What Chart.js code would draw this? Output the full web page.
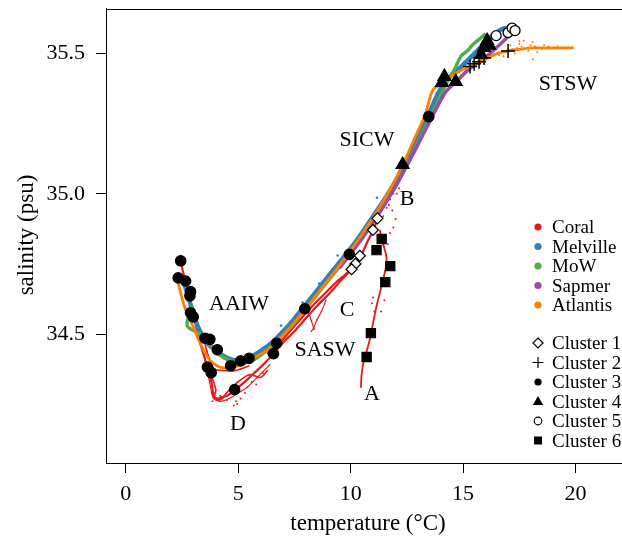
<!DOCTYPE html>
<html>
<head>
<meta charset="utf-8">
<script src="https://cdn.jsdelivr.net/npm/chart.js"></script>
<style>
html,body{margin:0;padding:0;background:#fff;overflow:hidden;}
canvas{display:block;}
</style>
</head>
<body>
<canvas id="c" width="649" height="539"></canvas>
<script>
// ---- tick labels ----
const xTicks = [0, 5, 10, 15, 20];
const yTicks = [34.5, 35.0, 35.5];

// ---- ship T-S traces [temperature, salinity] ----
const melville = [[2.6,34.68],[2.75,34.64],[2.9,34.60],[3.05,34.56],[3.3,34.51],[3.6,34.47],[4.0,34.44],[4.5,34.415],[5.0,34.405],[5.5,34.415],[6.0,34.44],[6.5,34.47],[7.0,34.51],[7.5,34.555],[8.0,34.605],[8.5,34.655],[9.0,34.705],[9.5,34.755],[10.0,34.805],[10.5,34.86],[11.0,34.92],[11.5,34.98],[12.0,35.045],[12.5,35.125],[13.0,35.205],[13.5,35.29],[13.9,35.36],[14.2,35.40],[14.6,35.43],[15.0,35.46],[15.5,35.50],[16.0,35.54],[16.4,35.57],[16.8,35.59],[17.2,35.59]];
const melvilleDots = [[6.9,34.53],[7.86,34.612],[9.42,34.78],[11.17,34.986],[8.6,34.68],[10.3,34.84]];
const mow = [[2.95,34.60],[2.8,34.57],[2.73,34.53],[2.95,34.515],[3.3,34.50],[3.7,34.465],[4.1,34.43],[4.6,34.405],[5.1,34.395],[5.6,34.405],[6.1,34.43],[6.6,34.465],[7.1,34.505],[7.6,34.55],[8.1,34.60],[8.6,34.65],[9.1,34.70],[9.6,34.75],[10.1,34.80],[10.6,34.855],[11.1,34.915],[11.6,34.975],[12.1,35.04],[12.6,35.12],[13.1,35.20],[13.6,35.285],[14.0,35.35],[14.3,35.40],[14.6,35.44],[14.9,35.49],[15.2,35.51],[15.4,35.53],[15.7,35.55],[16.0,35.57]];
const sapmer = [[9.5,34.735],[10.5,34.84],[11.5,34.96],[12.5,35.10],[13.5,35.255],[14.2,35.36],[14.7,35.40],[15.2,35.44],[15.7,35.47],[16.2,35.50],[16.6,35.53],[17.0,35.56]];
const atlantis = [[2.29,34.695],[2.6,34.60],[3.03,34.52],[3.33,34.464],[3.77,34.404],[4.35,34.379],[4.98,34.386],[5.69,34.414],[6.5,34.455],[7.5,34.54],[8.5,34.64],[9.5,34.745],[10.5,34.855],[11.5,34.98],[12.3,35.10],[12.8,35.19],[13.3,35.28],[13.65,35.37],[14.0,35.39],[14.5,35.42],[14.9,35.44],[15.5,35.46],[16.0,35.48],[16.5,35.50],[17.0,35.51],[17.5,35.515],[18.0,35.52],[18.5,35.52],[19.0,35.52],[19.5,35.52],[19.9,35.52]];
const atlantisDots = [[17.2,35.515],[17.4,35.52],[17.6,35.525],[17.8,35.52],[18.0,35.53],[18.2,35.525],[18.4,35.52],[18.6,35.53],[18.8,35.525],[19.0,35.52],[19.2,35.525],[19.4,35.52],[19.6,35.522],[19.85,35.523],[17.5,35.535],[18.1,35.54],[17.9,35.51],[18.5,35.515],[16.9,35.505],[17.1,35.53],[17.5,35.545],[16.8,35.49],[18.3,35.505],[18.1,35.48],[17.7,35.546],[16.6,35.495],[17.3,35.50]];
const coralMain = [[2.44,34.76],[2.55,34.72],[2.7,34.67],[2.85,34.62],[3.0,34.57],[3.15,34.52],[3.3,34.47],[3.45,34.43],[3.6,34.39],[3.75,34.35],[3.85,34.31],[3.9,34.28],[4.05,34.27],[4.3,34.275],[4.5,34.28],[4.7,34.29],[4.84,34.30],[5.0,34.31],[5.3,34.33],[5.7,34.36],[6.1,34.39],[6.57,34.43],[7.0,34.47],[7.5,34.51],[8.0,34.555],[8.5,34.60],[9.0,34.64],[9.5,34.685],[10.0,34.728],[10.4,34.77],[10.75,34.83],[11.0,34.87],[11.2,34.91]];
const coralLoop = [[3.47,34.486],[3.6,34.44],[3.77,34.40],[3.95,34.375],[4.3,34.37],[4.74,34.368],[5.1,34.375],[5.47,34.386]];
const coralD = [[3.6,34.40],[3.75,34.36],[3.9,34.33],[4.0,34.30],[3.95,34.275],[4.1,34.265],[4.3,34.27],[4.44,34.286],[4.6,34.30],[4.75,34.31],[5.0,34.33],[5.5,34.355],[6.0,34.345],[6.3,34.37]];
const coralD2 = [[3.2,34.52],[3.4,34.45],[3.55,34.40],[3.7,34.34],[3.82,34.29],[3.9,34.27],[4.2,34.26],[4.6,34.27],[5.0,34.29],[5.4,34.31],[5.9,34.35],[6.4,34.39]];
const coralDDots = [[4.95,34.25],[4.9,34.26],[5.1,34.27],[4.5,34.265],[5.3,34.29],[3.98,34.29],[4.2,34.28],[5.6,34.33],[5.8,34.32],[6.1,34.36],[4.8,34.245],[3.85,34.26]];
const coralC = [[6.3,34.43],[6.8,34.465],[7.3,34.51],[7.8,34.555],[8.3,34.60],[8.8,34.64],[9.3,34.68],[9.8,34.715],[10.2,34.745],[10.5,34.77]];
const coralTail = [[8.9,34.62],[8.7,34.58],[8.5,34.55],[8.35,34.52],[8.25,34.51]];
const coralTail2 = [[8.08,34.588],[8.26,34.546],[8.37,34.517]];
const coralA = [[10.46,34.31],[10.48,34.35],[10.55,34.39],[10.65,34.42],[10.75,34.45],[10.85,34.48],[10.95,34.52],[11.05,34.56],[11.15,34.60],[11.28,34.64],[11.4,34.68],[11.52,34.72],[11.6,34.75],[11.58,34.78],[11.48,34.81],[11.38,34.84],[11.3,34.87]];
const coralBDots = [[11.45,34.92],[11.6,34.95],[11.75,34.98],[11.9,35.0],[12.0,35.02],[12.1,35.035],[11.8,35.01],[12.05,35.0],[11.7,34.96],[11.65,34.82],[11.9,34.88],[12.0,34.91],[11.75,34.86],[11.5,34.62],[11.35,34.58],[11.0,34.63],[11.05,34.58],[10.95,34.61],[11.85,34.94],[12.15,35.02]];

// ---- water-mass clusters [temperature, salinity] ----
const cluster1 = [[11.19,34.9125],[10.99,34.871],[10.41,34.779],[10.21,34.75],[10.04,34.731]];
const cluster2 = [[17.00,35.509],[15.31,35.454],[15.49,35.464],[15.71,35.471],[15.93,35.484]];
const cluster3 = [[2.44,34.761],[2.33,34.70],[2.66,34.689],[2.88,34.651],[2.85,34.636],[2.88,34.576],[3.00,34.561],[3.52,34.485],[3.74,34.481],[4.07,34.444],[4.66,34.387],[5.11,34.404],[5.48,34.413],[3.63,34.382],[3.80,34.362],[4.84,34.302],[6.71,34.467],[6.57,34.430],[7.96,34.590],[9.94,34.784],[13.47,35.275]];
const cluster4 = [[12.31,35.104],[14.17,35.418],[14.06,35.396],[14.67,35.40],[16.07,35.546],[15.93,35.521],[15.80,35.496],[16.16,35.529]];
const cluster5 = [[16.47,35.564],[17.00,35.575],[17.18,35.591],[17.31,35.582]];
const cluster6 = [[11.38,34.839],[11.15,34.799],[11.76,34.742],[11.54,34.685],[10.90,34.503],[10.71,34.418]];

// ---- text ----
const shipNames = ['Coral','Melville','MoW','Sapmer','Atlantis'];
const clusterNames = ['Cluster 1','Cluster 2','Cluster 3','Cluster 4','Cluster 5','Cluster 6'];
const waterLabels = [['AAIW',239,302],['SASW',325,348],['C',347,308],['A',372,392],['D',238,422],['B',407,197],['SICW',367,138],['STSW',568,82]];

const COL = {Coral:'#E41A1C', Melville:'#377EB8', MoW:'#4DAF4A', Sapmer:'#984EA3', Atlantis:'#FF7F00'};
const FONT = '"Liberation Serif", "Times New Roman", serif';

const pts = a => a.map(([x,y]) => ({x, y}));
function trace(a, color, w, order, tension){
  return {data: pts(a), showLine: true, borderColor: color, backgroundColor: color,
    borderWidth: w, pointRadius: 0.8, pointBorderWidth: 0, tension: tension === undefined ? 0.3 : tension, order};
}
function dots(a, color, r, order){
  return {data: pts(a), showLine: false, backgroundColor: color, borderColor: color, pointRadius: r, pointBorderWidth: 0, order};
}
function marker(a, style, r, fill, order, bw){
  return {data: pts(a), showLine: false, pointStyle: style, pointRadius: r,
    backgroundColor: fill, borderColor: '#000', pointBorderWidth: bw || 1.2, order};
}

const datasets = [
  trace(coralMain, COL.Coral, 2.2, 10),
  trace(coralLoop, COL.Coral, 1.6, 10),
  trace(coralD, COL.Coral, 1.6, 10),
  trace(coralD2, COL.Coral, 1.2, 10),
  dots(coralDDots, COL.Coral, 1, 10),
  trace(coralC, COL.Coral, 2.2, 10),
  trace(coralTail, COL.Coral, 1.2, 10),
  trace(coralTail2, COL.Coral, 1.2, 10),
  trace(coralA, COL.Coral, 1.8, 10),
  dots(coralBDots, COL.Coral, 1, 10),
  trace(melville, COL.Melville, 4.5, 8),
  dots(melvilleDots, COL.Melville, 1.3, 8),
  trace(mow, COL.MoW, 3.5, 7),
  trace(sapmer, COL.Sapmer, 3.5, 6),
  trace(atlantis, COL.Atlantis, 2.8, 5),
  dots(atlantisDots, COL.Atlantis, 1, 5),
  marker(cluster1, 'rectRot', 5.5, '#fff', 1),
  marker(cluster2, 'cross', 7, '#000', 1, 1.5),
  marker(cluster3, 'circle', 5.2, '#000', 1),
  marker(cluster4, 'triangle', 7.5, '#000', 1),
  marker(cluster5, 'circle', 5, '#fff', 1, 1.3),
  marker(cluster6, 'rect', 6.5, '#000', 1)
];

function drawMark(ctx, style, x, y, r, fill){
  ctx.save();
  ctx.fillStyle = fill; ctx.strokeStyle = '#000'; ctx.lineWidth = 1.2;
  ctx.beginPath();
  if (style === 'dot') { ctx.arc(x, y, r, 0, Math.PI*2); ctx.fill(); }
  else if (style === 'diamond') { ctx.moveTo(x, y-r); ctx.lineTo(x+r, y); ctx.lineTo(x, y+r); ctx.lineTo(x-r, y); ctx.closePath(); ctx.fill(); ctx.stroke(); }
  else if (style === 'plus') { ctx.moveTo(x-r, y); ctx.lineTo(x+r, y); ctx.moveTo(x, y-r); ctx.lineTo(x, y+r); ctx.stroke(); }
  else if (style === 'tri') { ctx.moveTo(x, y-r); ctx.lineTo(x+r*0.95, y+r*0.65); ctx.lineTo(x-r*0.95, y+r*0.65); ctx.closePath(); ctx.fill(); }
  else if (style === 'ocircle') { ctx.arc(x, y, r, 0, Math.PI*2); ctx.fill(); ctx.stroke(); }
  else if (style === 'square') { ctx.rect(x-r, y-r, 2*r, 2*r); ctx.fill(); }
  ctx.restore();
}

const decor = {
  id: 'decor',
  afterDraw(chart){
    const ctx = chart.ctx, a = chart.chartArea;
    ctx.save();
    ctx.strokeStyle = '#000'; ctx.lineWidth = 1;
    ctx.strokeRect(Math.round(a.left)+0.5, Math.round(a.top)+0.5, Math.round(a.right-a.left), Math.round(a.bottom-a.top));
    ctx.fillStyle = '#000';
    ctx.textAlign = 'center'; ctx.textBaseline = 'alphabetic';
    ctx.font = '22px ' + FONT;
    waterLabels.forEach(([t,x,y]) => ctx.fillText(t, x, y + 7.5));
    // axis titles
    ctx.font = '23px ' + FONT;
    ctx.fillText('temperature (\u00B0C)', 368, 530);
    ctx.save();
    ctx.translate(33, 235); ctx.rotate(-Math.PI/2);
    ctx.fillText('salinity (psu)', 0, 0);
    ctx.restore();
    // legend
    ctx.font = '19px ' + FONT;
    ctx.textAlign = 'left';
    const shipY = [227, 246.5, 266, 285.5, 305];
    shipNames.forEach((n,i) => {
      drawMark(ctx, 'dot', 538, shipY[i], 3.6, COL[n]);
      ctx.fillStyle = '#000';
      ctx.fillText(n, 552, shipY[i] + 6);
    });
    const cY = [343, 362.5, 382, 401.5, 421, 440.5];
    const cs = [['diamond',5,'#fff'],['plus',5.5,'#000'],['dot',3.6,'#000'],['tri',5.5,'#000'],['ocircle',3.8,'#fff'],['square',4,'#000']];
    clusterNames.forEach((n,i) => {
      drawMark(ctx, cs[i][0], 538, cY[i], cs[i][1], cs[i][2]);
      ctx.fillStyle = '#000';
      ctx.fillText(n, 552, cY[i] + 6);
    });
    ctx.restore();
  }
};

Chart.defaults.font.family = FONT;
Chart.defaults.color = '#000';

new Chart(document.getElementById('c'), {
  type: 'scatter',
  data: {datasets},
  options: {
    responsive: false, animation: false,
    layout: {padding: {left: 0, top: 7, right: 1, bottom: 0}},
    plugins: {legend: {display: false}, tooltip: {enabled: false}},
    scales: {
      x: {
        type: 'linear', min: -0.88, max: 22.88,
        afterBuildTicks: s => { s.ticks = xTicks.map(v => ({value: v})); },
        afterFit: s => { s.height = 76; s.paddingLeft = 0; s.paddingRight = 0; },
        ticks: {font: {size: 22}, padding: 8, maxRotation: 0, callback: v => String(v)},
        grid: {display: true, drawOnChartArea: false, drawTicks: true, tickLength: 10, color: '#000'},
        border: {display: true, color: '#000'}
      },
      y: {
        type: 'linear', min: 34.04, max: 35.66,
        afterBuildTicks: s => { s.ticks = yTicks.map(v => ({value: v})); },
        afterFit: s => { s.width = 106; s.paddingTop = 0; s.paddingBottom = 0; },
        ticks: {font: {size: 22}, padding: 11, callback: v => Number(v).toFixed(1)},
        grid: {display: true, drawOnChartArea: false, drawTicks: true, tickLength: 10, color: '#000'},
        border: {display: true, color: '#000'}
      }
    }
  },
  plugins: [decor]
});
</script>
</body>
</html>
